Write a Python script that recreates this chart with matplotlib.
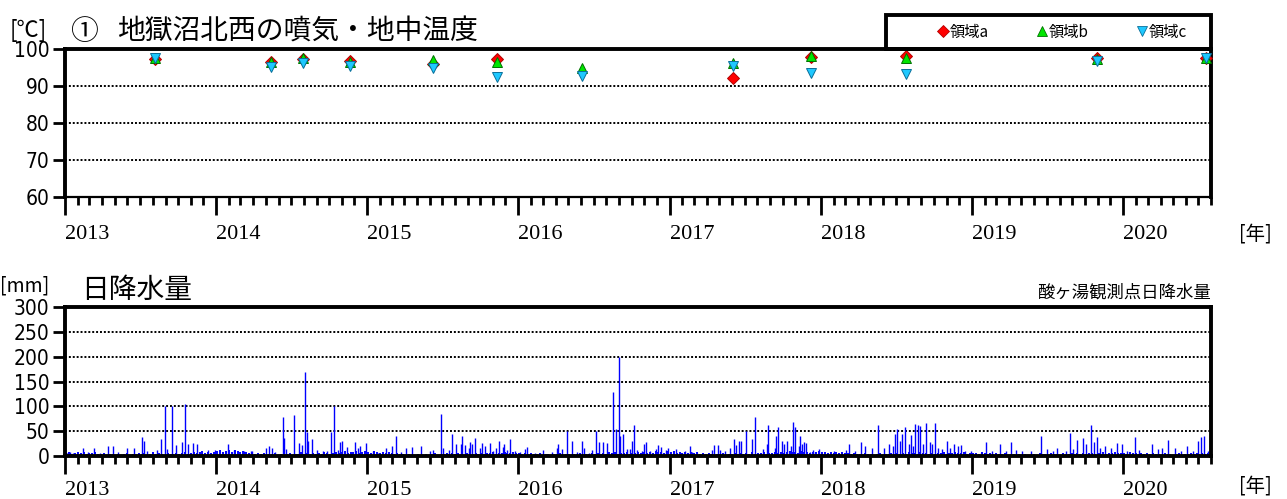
import numpy as np
import pandas as pd
import matplotlib
matplotlib.use('Agg')
import matplotlib.pyplot as plt
import matplotlib.dates as mdates
from matplotlib import font_manager
from matplotlib.font_manager import FontProperties
from matplotlib.patches import Rectangle
from matplotlib.lines import Line2D

W, H = 1287, 499
jp = ['Noto Sans CJK JP', 'DejaVu Sans']

# narrow face for the value axis numbers
names = {f.name for f in font_manager.fontManager.ttflist}
if 'Liberation Sans Narrow' in names:
    num_font = FontProperties(family='Liberation Sans Narrow', size=17)
else:
    num_font = FontProperties(family='DejaVu Sans', stretch='condensed', size=15)
year_font = FontProperties(family='Liberation Serif', size=16)

# fumarole / ground temperature surveys
survey_dates = ['2013-08-07', '2014-05-14', '2014-07-30', '2014-11-21', '2015-06-08',
                '2015-11-10', '2016-06-03', '2017-06-03', '2017-12-09', '2018-07-25',
                '2019-10-31', '2020-07-19']
area_a = [97.4, 96.6, 97.3, 96.8, 95.9, 97.3, np.nan, 92.1, 97.9, 98.1, 97.5, 97.6]
area_b = [97.5, 96.4, 97.5, 96.5, 97.0, 96.4, 94.9, 96.1, 98.2, 97.5, 97.3, 97.6]
area_c = [97.7, 95.1, 96.1, 95.4, 94.8, 92.5, 92.7, 95.5, 93.6, 93.2, 96.8, 97.5]

# daily precipitation at Sukayu, wetter days
rain_days = [
    '2013-01-05', '2013-01-13', '2013-01-21', '2013-02-14', '2013-02-26', '2013-03-13', '2013-03-27',
    '2013-04-14', '2013-04-26', '2013-05-10', '2013-05-30', '2013-06-17', '2013-07-05', '2013-07-12',
    '2013-07-19', '2013-08-11', '2013-08-20', '2013-08-31', '2013-09-04', '2013-09-16', '2013-09-26',
    '2013-10-10', '2013-10-18', '2013-10-26', '2013-11-07', '2013-11-17', '2013-12-13', '2013-12-30',
    '2014-01-29', '2014-02-14', '2014-03-10', '2014-03-26', '2014-03-30', '2014-05-02', '2014-05-08',
    '2014-05-16', '2014-05-24', '2014-06-11', '2014-06-14', '2014-06-19', '2014-07-08', '2014-07-21',
    '2014-07-28', '2014-08-05', '2014-08-08', '2014-08-11', '2014-08-21', '2014-09-03', '2014-09-17',
    '2014-09-25', '2014-10-06', '2014-10-14', '2014-10-22', '2014-10-28', '2014-11-02', '2014-11-13',
    '2014-12-02', '2014-12-11', '2014-12-14', '2014-12-30',
    '2015-01-14', '2015-01-28', '2015-02-15', '2015-03-02', '2015-03-11', '2015-03-23', '2015-04-05',
    '2015-04-19', '2015-05-12', '2015-06-02', '2015-06-10', '2015-06-28', '2015-07-03', '2015-07-19',
    '2015-07-26', '2015-08-03', '2015-08-16', '2015-08-19', '2015-08-26', '2015-09-04', '2015-09-07',
    '2015-09-12', '2015-09-19', '2015-09-30', '2015-10-05', '2015-10-12', '2015-10-25', '2015-11-01',
    '2015-11-09', '2015-11-15', '2015-11-25', '2015-11-28', '2015-12-05', '2015-12-13', '2015-12-25',
    '2016-01-06', '2016-01-18', '2016-01-22', '2016-02-11', '2016-02-23', '2016-03-02', '2016-03-23',
    '2016-04-04', '2016-04-07', '2016-04-16', '2016-04-29', '2016-05-11', '2016-05-22', '2016-06-03',
    '2016-06-08', '2016-06-19', '2016-06-27', '2016-07-07', '2016-07-15', '2016-07-24', '2016-08-02',
    '2016-08-18', '2016-08-24', '2016-08-31', '2016-09-04', '2016-09-10', '2016-09-20', '2016-09-26',
    '2016-10-02', '2016-10-07', '2016-10-14', '2016-10-26', '2016-11-01', '2016-11-05', '2016-11-15',
    '2016-11-30', '2016-12-03', '2016-12-11', '2016-12-24', '2016-12-29',
    '2017-01-17', '2017-01-31', '2017-02-08', '2017-02-18', '2017-02-24', '2017-03-08', '2017-03-24',
    '2017-04-13', '2017-04-19', '2017-04-27', '2017-05-02', '2017-05-15', '2017-05-27', '2017-06-05',
    '2017-06-11', '2017-06-17', '2017-06-22', '2017-07-04', '2017-07-18', '2017-07-25', '2017-08-14',
    '2017-08-23', '2017-08-26', '2017-09-12', '2017-09-16', '2017-09-20', '2017-09-30', '2017-10-05',
    '2017-10-12', '2017-10-22', '2017-10-25', '2017-10-30', '2017-11-09', '2017-11-13', '2017-11-17',
    '2017-11-21', '2017-11-27', '2017-12-05', '2017-12-13', '2017-12-19', '2017-12-29',
    '2018-02-03', '2018-03-03', '2018-03-10', '2018-03-25', '2018-04-09', '2018-04-19', '2018-05-06',
    '2018-05-19', '2018-06-03', '2018-06-16', '2018-06-25', '2018-06-30', '2018-07-05', '2018-07-11',
    '2018-07-16', '2018-07-23', '2018-08-02', '2018-08-07', '2018-08-12', '2018-08-17', '2018-08-24',
    '2018-08-30', '2018-09-06', '2018-09-13', '2018-09-21', '2018-09-26', '2018-10-03', '2018-10-11',
    '2018-10-21', '2018-11-02', '2018-11-10', '2018-11-18', '2018-11-28', '2018-12-05', '2018-12-15',
    '2018-12-30',
    '2019-01-23', '2019-02-05', '2019-02-19', '2019-03-11', '2019-03-24', '2019-04-06', '2019-04-18',
    '2019-05-03', '2019-05-23', '2019-06-17', '2019-07-02', '2019-07-17', '2019-07-25', '2019-08-16',
    '2019-08-26', '2019-09-03', '2019-09-13', '2019-09-27', '2019-10-05', '2019-10-15', '2019-10-23',
    '2019-10-30', '2019-11-06', '2019-11-19', '2019-12-04', '2019-12-19', '2019-12-31',
    '2020-01-11', '2020-01-31', '2020-02-10', '2020-03-11', '2020-03-26', '2020-04-05', '2020-04-20',
    '2020-05-05', '2020-05-20', '2020-06-04', '2020-06-19', '2020-07-01', '2020-07-09', '2020-07-15',
    '2020-07-24',
]
rain_mm = [
    6, 8, 6, 16, 8, 16, 6, 20, 20, 8, 16, 16, 39, 31, 10, 12, 34, 100, 14, 100, 22, 28, 105, 24, 26, 24, 12, 12,
    25, 12, 10, 10, 10, 16, 20, 17, 8, 78, 36, 15, 82, 27, 22, 170, 48, 30, 35, 12, 10, 10, 48, 100, 12, 28,
    30, 18, 28, 16, 20, 26,
    10, 6, 16, 20, 40, 8, 16, 18, 20, 10, 12, 85, 16, 12, 45, 24, 25, 40, 22, 16, 28, 25, 37, 17, 27, 20,
    27, 10, 16, 30, 19, 25, 13, 34, 10,
    8, 14, 18, 6, 6, 12, 8, 16, 24, 14, 50, 30, 8, 30, 16, 6, 12, 50, 28, 28, 27, 128, 55, 199, 40, 44,
    14, 14, 30, 62, 12, 10, 24, 28, 10, 14, 22, 18, 12, 16,
    14, 6, 10, 20, 8, 6, 4, 12, 22, 22, 12, 10, 16, 34, 22, 30, 30, 50, 35, 78, 14, 24, 63, 17, 40, 58,
    30, 25, 30, 20, 68, 58, 20, 40, 25, 28, 26, 8, 12, 8, 14,
    10, 12, 24, 10, 28, 21, 17, 62, 17, 24, 21, 45, 55, 31, 45, 58, 24, 42, 21, 65, 62, 60, 24, 66, 28,
    24, 67, 17, 14, 30, 17, 24, 21, 23, 10, 10,
    7, 28, 10, 24, 10, 28, 12, 10, 10, 40, 14, 10, 17, 10, 47, 14, 33, 37, 24, 62, 28, 38, 17, 21, 17,
    26, 24,
    10, 38, 12, 24, 14, 17, 33, 17, 10, 21, 10, 31, 38, 40, 10,
]

# light daily amounts, one reading per week of each year
light_mm = {
    2013: [6, 8, 5, 7, 9, 6, 8, 5, 7, 6, 9, 5, 4, 6, 3, 5, 4, 2, 5, 3, 4, 6, 3, 5, 4, 7,
           5, 6, 3, 5, 8, 4, 6, 5, 3, 6, 4, 5, 7, 4, 6, 8, 5, 7, 9, 6, 8, 10, 7, 9, 6, 8],
    2014: [10, 12, 8, 11, 13, 9, 12, 10, 8, 11, 9, 7, 6, 5, 7, 4, 6, 3, 5, 4, 6, 3, 5, 7,
           4, 6, 3, 5, 4, 8, 5, 6, 4, 7, 5, 6, 4, 8, 6, 5, 7, 9, 6, 8, 10, 7, 9, 8, 10, 7, 9, 11],
    2015: [9, 7, 10, 8, 6, 9, 7, 8, 6, 5, 7, 4, 5, 3, 4, 2, 3, 4, 2, 3, 5, 3, 4, 6, 3, 5,
           4, 6, 5, 7, 4, 6, 5, 3, 6, 4, 5, 7, 4, 6, 5, 7, 6, 8, 5, 7, 6, 8, 7, 6, 8, 7],
    2016: [6, 5, 7, 4, 6, 5, 4, 6, 3, 5, 4, 3, 5, 4, 6, 3, 5, 4, 3, 5, 4, 6, 3, 5, 4, 6,
           5, 7, 4, 6, 5, 8, 6, 9, 5, 7, 6, 8, 5, 7, 6, 9, 7, 8, 6, 9, 7, 10, 8, 9, 7, 10],
    2017: [8, 10, 7, 9, 6, 8, 7, 9, 6, 8, 5, 7, 4, 6, 5, 3, 5, 4, 6, 3, 5, 4, 6, 5, 7, 4,
           6, 5, 8, 5, 7, 6, 8, 5, 7, 6, 9, 7, 8, 6, 9, 10, 8, 9, 7, 10, 8, 9, 7, 8, 9, 10],
    2018: [8, 9, 7, 8, 6, 9, 7, 8, 6, 7, 5, 6, 4, 5, 3, 6, 4, 5, 3, 4, 6, 3, 5, 4, 6, 5,
           7, 4, 6, 5, 8, 6, 7, 5, 8, 6, 7, 5, 6, 4, 7, 6, 8, 5, 7, 6, 8, 7, 6, 8, 5, 7],
    2019: [6, 7, 5, 8, 6, 5, 7, 4, 6, 5, 4, 6, 3, 5, 4, 3, 5, 2, 4, 3, 5, 4, 3, 6, 4, 5,
           3, 6, 4, 5, 3, 6, 5, 4, 6, 5, 7, 4, 6, 5, 7, 6, 5, 7, 6, 8, 5, 7, 6, 8, 6, 7],
    2020: [7, 5, 8, 6, 7, 5, 6, 4, 7, 5, 6, 4, 5, 3, 6, 4, 5, 3, 4, 6, 3, 5, 4, 6, 5, 7,
           4, 6, 5, 7, 6],
}

years = list(range(2013, 2021))
x_start, x_end = pd.Timestamp('2013-01-01'), pd.Timestamp('2020-08-01')

fig = plt.figure(figsize=(W / 100, H / 100), dpi=100)
ax1 = fig.add_axes([65 / W, 1 - 197 / H, 1146 / W, 148 / H])
ax2 = fig.add_axes([65 / W, 1 - 456 / H, 1146 / W, 149 / H])


def frame(ax, ymin, ymax, step, bottom_lw):
    ax.set_xlim(x_start, x_end)
    ax.set_ylim(ymin, ymax)
    ax.set_yticks(np.arange(ymin, ymax + 1, step))
    for t in ax.get_yticklabels():
        t.set_fontproperties(num_font)
    for g in np.arange(ymin + step, ymax, step):
        ax.axhline(g, color='black', lw=1.4, ls=(0, (1, 1)), zorder=1)
    ax.xaxis.set_major_locator(mdates.YearLocator())
    ax.xaxis.set_minor_locator(mdates.MonthLocator())
    ax.set_xticks([pd.Timestamp(f'{y}-01-01') for y in years])
    ax.set_xticklabels([str(y) for y in years], fontproperties=year_font, ha='left')
    ax.tick_params(axis='x', which='major', direction='out', length=13, width=2, pad=7)
    ax.tick_params(axis='x', which='minor', direction='out', length=6, width=2)
    ax.tick_params(axis='y', direction='out', length=9, width=2, pad=2)
    for side in ['top', 'left', 'right']:
        ax.spines[side].set_linewidth(2.8)
    ax.spines['bottom'].set_linewidth(bottom_lw)


# temperature panel
frame(ax1, 60, 100, 10, 1.6)
sd = pd.to_datetime(survey_dates)
ax1.plot(sd, area_a, ls='none', marker='D', ms=6.5, mfc='#ff0000', mec='#b00000', mew=0.7, zorder=3, clip_on=False)
ax1.plot(sd, area_b, ls='none', marker='^', ms=7.5, mfc='#00e600', mec='#007000', mew=0.7, zorder=4, clip_on=False)
ax1.plot(sd, area_c, ls='none', marker='v', ms=7.5, mfc='#1ec8ff', mec='#0a6f99', mew=0.7, zorder=5, clip_on=False)

# legend box sitting on the top spine
fig.add_artist(Rectangle((886 / W, 1 - 49 / H), 325 / W, 34 / H, transform=fig.transFigure,
                         fill=False, lw=2.8, ec='black'))
handles = [
    Line2D([], [], ls='none', marker='D', ms=6, mfc='#ff0000', mec='#b00000', mew=0.6),
    Line2D([], [], ls='none', marker='^', ms=6.5, mfc='#00e600', mec='#007000', mew=0.6),
    Line2D([], [], ls='none', marker='v', ms=6.5, mfc='#1ec8ff', mec='#0a6f99', mew=0.6),
]
fig.legend(handles, ['領域a', '領域b', '領域c'], ncol=3, loc='center left',
           bbox_to_anchor=(938 / W, 1 - 32 / H), frameon=False, handlelength=0.6,
           handletextpad=0.15, columnspacing=3.2, borderpad=0, borderaxespad=0,
           prop=FontProperties(family=jp, size=11))

fig.text(10 / W, 1 - 30 / H, '[℃]', family=jp, fontsize=16, va='center')
fig.text(70 / W, 1 - 32 / H, '①', family=jp, fontsize=20, va='center')
fig.text(117 / W, 1 - 32 / H, '地獄沼北西の噴気・地中温度', family=jp, fontsize=20, va='center')
fig.text(1239 / W, 1 - 234 / H, '[年]', family=jp, fontsize=14, va='center')

# precipitation panel
frame(ax2, 0, 300, 50, 2.8)
ax2.tick_params(axis='x', which='major', pad=5)
light_days, light_vals = [], []
for y, vals in light_mm.items():
    for i, v in enumerate(vals):
        light_days.append(pd.Timestamp(f'{y}-01-01') + pd.Timedelta(days=7 * i + 3))
        light_vals.append(v)
ax2.vlines(light_days, 0, light_vals, color='#0000ff', lw=1.4, zorder=2)
ax2.vlines(pd.to_datetime(rain_days), 0, rain_mm, color='#0000ff', lw=1.0, zorder=2)

fig.text(0 / W, 1 - 286 / H, '[mm]', family=jp, fontsize=14, va='center')
fig.text(81 / W, 1 - 290 / H, '日降水量', family=jp, fontsize=20, va='center')
fig.text(1211 / W, 1 - 293 / H, '酸ヶ湯観測点日降水量', family=jp, fontsize=12.5, va='center', ha='right')
fig.text(1239 / W, 1 - 486 / H, '[年]', family=jp, fontsize=14, va='center')

fig.savefig('out.png', dpi=100)
